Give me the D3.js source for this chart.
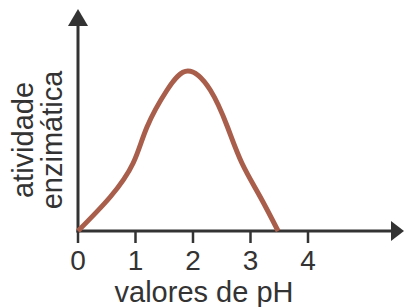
<!DOCTYPE html>
<html>
<head>
<meta charset="utf-8">
<script src="https://cdn.jsdelivr.net/npm/d3@7"></script>
<style>
  body { margin: 0; background: #fff; }
  svg { display: block; }
  text { font-family: "Liberation Sans", Arial, sans-serif; fill: #333; }
</style>
</head>
<body>
<svg width="404" height="307"></svg>
<script>
// data
var ph = [0, 0.56, 0.96, 1.2, 1.55, 1.91, 2.3, 2.6, 2.85, 3.17, 3.48];
var atividade = [0, 1.7, 3.4, 5.2, 7.05, 8.0, 7.05, 5.2, 3.4, 1.7, 0];
var tickValues = [0, 1, 2, 3, 4];
var yLabel = ["atividade", "enzimática"];
var xLabel = "valores de pH";

var width = 404, height = 307;
var axisColor = "#333";

var svg = d3.select("svg");

var x = d3.scaleLinear().domain([0, 4]).range([78, 308]);
var y = d3.scaleLinear().domain([0, 10]).range([231, 31]);

// axes
svg.append("line")
  .attr("x1", x(0)).attr("y1", y(0) + 1.5)
  .attr("x2", x(0)).attr("y2", 22)
  .attr("stroke", axisColor).attr("stroke-width", 3);
svg.append("path")
  .attr("d", "M" + (x(0) - 10) + ",26 L" + x(0) + ",9 L" + (x(0) + 10) + ",26 Z")
  .attr("fill", axisColor);

svg.append("line")
  .attr("x1", x(0) - 1.5).attr("y1", y(0))
  .attr("x2", 393).attr("y2", y(0))
  .attr("stroke", axisColor).attr("stroke-width", 3);
svg.append("path")
  .attr("d", "M391," + (y(0) - 10) + " L404," + y(0) + " L391," + (y(0) + 10) + " Z")
  .attr("fill", axisColor);

// ticks
svg.selectAll(".tick")
  .data(tickValues)
  .enter()
  .append("line")
  .attr("x1", function(d) { return x(d); })
  .attr("x2", function(d) { return x(d); })
  .attr("y1", y(0))
  .attr("y2", y(0) + 12)
  .attr("stroke", axisColor)
  .attr("stroke-width", 2.5);

svg.selectAll(".ticklabel")
  .data(tickValues)
  .enter()
  .append("text")
  .attr("x", function(d) { return x(d); })
  .attr("y", 270)
  .attr("text-anchor", "middle")
  .style("font-size", "28px")
  .text(function(d) { return d; });

svg.append("text")
  .attr("x", 204).attr("y", 302)
  .attr("text-anchor", "middle")
  .style("font-size", "29px")
  .text(xLabel);

svg.selectAll(".ylabel")
  .data(yLabel)
  .enter()
  .append("text")
  .attr("transform", function(d, i) { return "translate(" + (33 + i * 29) + ",140) rotate(-90)"; })
  .attr("text-anchor", "middle")
  .style("font-size", "29px")
  .text(function(d) { return d; });

// curve
var pts = ph.map(function(d, i) { return [d, atividade[i]]; });
var line = d3.line()
  .x(function(d) { return x(d[0]); })
  .y(function(d) { return y(d[1]); })
  .curve(d3.curveNatural);

svg.append("path")
  .datum(pts)
  .attr("d", line)
  .attr("fill", "none")
  .attr("stroke", "#a85e4a")
  .attr("stroke-width", 5)
  .attr("stroke-linecap", "butt");
</script>
</body>
</html>
